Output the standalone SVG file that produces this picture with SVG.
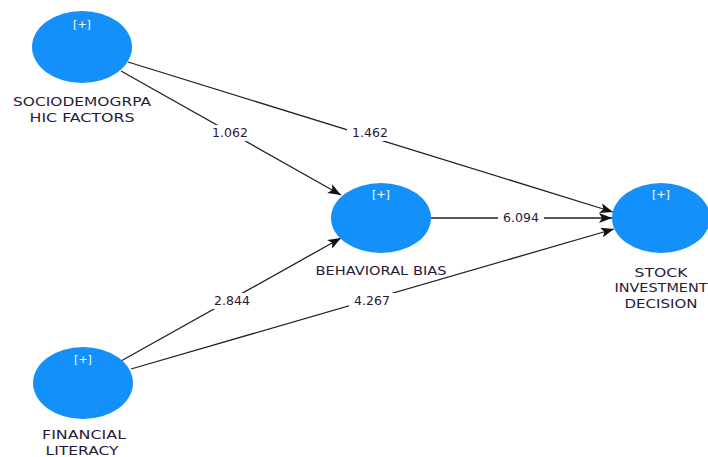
<svg xmlns="http://www.w3.org/2000/svg" width="708" height="457" viewBox="0 0 708 457">
<style>
.node{fill:#1490fa}
.plus{font-family:"DejaVu Sans",sans-serif;font-size:11px;fill:#ffffff;text-anchor:middle}
.lbl{font-family:"DejaVu Sans",sans-serif;font-size:13px;fill:#2a1838;text-anchor:middle}
.edge{stroke:#222222;stroke-width:1.3;fill:none;marker-end:url(#ah)}
.w{font-family:"DejaVu Sans",sans-serif;font-size:12.5px;fill:#2a1838;text-anchor:middle}
.bg{fill:#ffffff}
</style>
<defs>
<marker id="ah" viewBox="0 0 13 10" refX="13" refY="5" markerWidth="13" markerHeight="10" markerUnits="userSpaceOnUse" orient="auto">
<path d="M0,0 L13,5 L0,10 L3,5 Z" fill="#111111"/>
</marker>
</defs>
<rect width="708" height="457" fill="#ffffff"/>
<g id="connectors">
<line class="edge" x1="128" y1="62" x2="613" y2="212"/>
<line class="edge" x1="121" y1="71" x2="341" y2="195"/>
<line class="edge" x1="431" y1="218" x2="612" y2="218"/>
<line class="edge" x1="121" y1="361" x2="341" y2="238"/>
<line class="edge" x1="131" y1="369" x2="614" y2="229"/>
<rect class="bg" x="207" y="125" width="46" height="16"/>
<text class="w" x="230" y="137">1.062</text>
<rect class="bg" x="347" y="125" width="46" height="16"/>
<text class="w" x="370" y="137">1.462</text>
<rect class="bg" x="498" y="210" width="46" height="16"/>
<text class="w" x="521" y="222">6.094</text>
<rect class="bg" x="209" y="293" width="46" height="16"/>
<text class="w" x="232" y="305">2.844</text>
<rect class="bg" x="349" y="293" width="46" height="16"/>
<text class="w" x="372" y="305">4.267</text>
</g>
<g id="socio">
<ellipse class="node" cx="82" cy="47" rx="50" ry="36"/>
<text class="plus" x="82" y="28">[+]</text>
<text class="lbl" x="82" y="106" textLength="138" lengthAdjust="spacingAndGlyphs">SOCIODEMOGRPA</text>
<text class="lbl" x="82" y="122" textLength="105" lengthAdjust="spacingAndGlyphs">HIC FACTORS</text>
</g>
<g id="behavioral">
<ellipse class="node" cx="381" cy="218" rx="50" ry="35"/>
<text class="plus" x="381" y="198">[+]</text>
<text class="lbl" x="381" y="275" textLength="131" lengthAdjust="spacingAndGlyphs">BEHAVIORAL BIAS</text>
</g>
<g id="stock">
<ellipse class="node" cx="661" cy="218" rx="49" ry="35"/>
<text class="plus" x="661" y="198">[+]</text>
<text class="lbl" x="661" y="277" textLength="53" lengthAdjust="spacingAndGlyphs">STOCK</text>
<text class="lbl" x="661" y="292" textLength="93" lengthAdjust="spacingAndGlyphs">INVESTMENT</text>
<text class="lbl" x="661" y="308" textLength="73" lengthAdjust="spacingAndGlyphs">DECISION</text>
</g>
<g id="financial">
<ellipse class="node" cx="83" cy="383" rx="50" ry="36"/>
<text class="plus" x="83" y="363">[+]</text>
<text class="lbl" x="84" y="439" textLength="84" lengthAdjust="spacingAndGlyphs">FINANCIAL</text>
<text class="lbl" x="82" y="455" textLength="73" lengthAdjust="spacingAndGlyphs">LITERACY</text>
</g>
</svg>
